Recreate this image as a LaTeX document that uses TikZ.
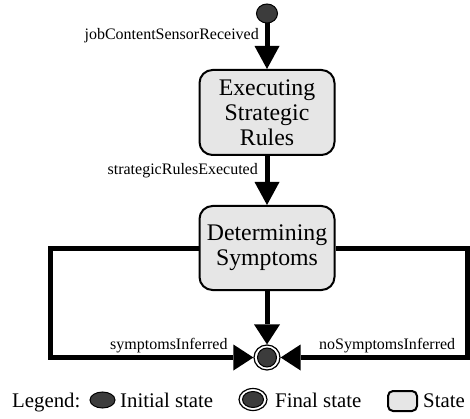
\documentclass[tikz,border=0pt]{standalone}
\usepackage{fontspec}
\setmainfont{Liberation Serif}
\usetikzlibrary{arrows.meta,shapes.geometric}
\definecolor{statefill}{HTML}{E6E6E6}
\definecolor{dotfill}{HTML}{3C3C3C}

\begin{document}
\begin{tikzpicture}[x=1pt,y=-1pt,
  statebox/.style={draw=black, line width=2pt, fill=statefill, rounded corners=13pt,
    minimum width=135pt, minimum height=85pt, inner sep=0pt, align=center,
    font=\fontsize{23.8}{25}\selectfont},
  startdot/.style={ellipse, draw=black, line width=1pt, fill=dotfill, inner sep=0pt},
  endring/.style={ellipse, draw=black, line width=1.2pt, fill=white, inner sep=0pt},
  flow/.style={line width=5pt, -{Triangle[length=23pt,width=25pt,line width=0pt]}},
  flowin/.style={line width=5pt, -{Triangle[length=20pt,width=26pt,line width=0pt]}},
  lbl/.style={inner sep=0pt, font=\fontsize{16}{18}\selectfont},
  leg/.style={inner sep=0pt, font=\fontsize{20.8}{24}\selectfont}]
\useasboundingbox (0,0) rectangle (470,419);

% states
\node[startdot, minimum width=21pt, minimum height=19pt] (init) at (267,13.5) {};
\node[statebox] (exec) at (267,112.5) {Executing\\Strategic\\Rules};
\node[statebox, minimum height=84pt] (determ) at (267,248) {Determining\\Symptoms};
\node[endring, minimum width=26pt, minimum height=25pt] (final) at (267,357.5) {};
\node[startdot, minimum width=19pt, minimum height=19pt] (finalcore) at (final.center) {};

% side routes
\coordinate (leftbend) at (50,357.5);
\coordinate (rightbend) at (467.5,357.5);

% transitions
\draw[flow] (init) -- (exec);
\draw[flow] (exec) -- (determ);
\draw[flowin] (determ.south) -- (final.north);
\draw[flowin] (determ.west) -| (leftbend) -- (final);
\draw[flowin] (determ.east) -| (rightbend) -- (final);

% transition labels
\node[lbl, anchor=base east] (lblstart) at (259,40) {jobContentSensorReceived};
\node[lbl, anchor=base east] (lblexec) at (258,175) {strategicRulesExecuted};
\node[lbl, anchor=base west] (lblyes) at (110,349) {symptomsInferred};
\node[lbl, anchor=base west] (lblno) at (319,349) {noSymptomsInferred};

% legend
\node[leg, anchor=base west] (legtitle) at (12,407) {Legend:};
\node[startdot, minimum width=25pt, minimum height=16pt] (leginit) at (102.5,400) {};
\node[leg, anchor=base west] (leginittxt) at (120,407) {Initial state};
\node[endring, minimum width=28pt, minimum height=22pt] (legfinal) at (253,399.5) {};
\node[startdot, minimum width=21pt, minimum height=16pt] (legfinalcore) at (legfinal.center) {};
\node[leg, anchor=base west] (legfinaltxt) at (275,407) {Final state};
\node[draw=black, line width=2pt, fill=statefill, rounded corners=5pt, inner sep=0pt,
  minimum width=29pt, minimum height=20pt] (legstate) at (402.5,401) {};
\node[leg, anchor=base west] (legstatetxt) at (423,407) {State};
\end{tikzpicture}
\end{document}
